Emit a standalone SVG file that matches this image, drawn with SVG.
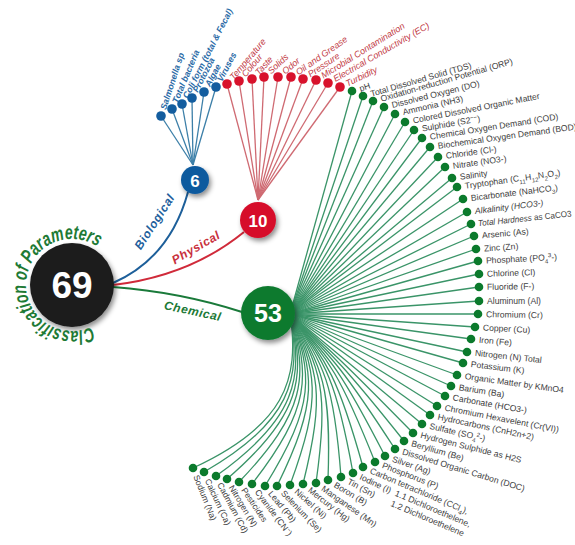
<svg xmlns="http://www.w3.org/2000/svg" width="575" height="545" viewBox="0 0 575 545">
<defs>
<style>
.gl{font-family:"Liberation Sans",Arial,sans-serif;font-size:8.6px;fill:#3d3d3d}
.gd{fill:#0b7a2c}
.gline{stroke:#3a9468;stroke-width:1.3;fill:none}
.rl{font-family:"Liberation Sans",Arial,sans-serif;font-style:italic;font-size:9px;fill:#c23a45}
.rd{fill:#d8122c}
.rline{stroke:#cf6a72;stroke-width:1.3;fill:none}
.bl{font-family:"Liberation Sans",Arial,sans-serif;font-style:italic;font-weight:bold;font-size:8.8px;fill:#2a6aa6}
.bd{fill:#135d9f}
.bline{stroke:#3c7fa8;stroke-width:1.3;fill:none}
.cat{font-family:"Liberation Sans",Arial,sans-serif;font-style:italic;font-weight:bold;font-size:12px;letter-spacing:0.6px}
.num{font-family:"Liberation Sans",Arial,sans-serif;font-weight:bold;fill:#fff;text-anchor:middle}
.sub{font-size:6px;baseline-shift:sub}
.sup{font-size:6px;baseline-shift:super}
</style>
<filter id="sh" x="-40%" y="-40%" width="180%" height="180%"><feDropShadow dx="2" dy="3" stdDeviation="2.5" flood-color="#000" flood-opacity="0.45"/></filter>
<path id="titlePath" d="M91.4,326.7 A46 46 0 1 1 97.1,246.4"/>
</defs>
<rect width="575" height="545" fill="#fff"/>

<g id="connectors">
<path d="M113,283 Q170,258 188,192" stroke="#1d5f9a" stroke-width="2" fill="none"/>
<path d="M113,285 Q190,276 244,232" stroke="#d02a3a" stroke-width="2" fill="none"/>
<path d="M113,287 Q180,292 242,312" stroke="#1a7a3a" stroke-width="2" fill="none"/>
<g class="bline">
<path d="M193,165 L161,116"/><path d="M193,165 L172,109"/><path d="M193,165 L182,104"/><path d="M193,165 L192,98"/><path d="M193,165 L204,92"/><path d="M193,165 L216,87"/>
</g>
<g class="rline">
<path d="M258,200 L227,84"/><path d="M258,200 L239,81"/><path d="M258,200 L252,79"/><path d="M258,200 L264,77"/><path d="M258,200 L278,77"/><path d="M258,200 L291,77"/><path d="M258,200 L303,79"/><path d="M258,200 L316,80"/><path d="M258,200 L328,83"/><path d="M258,200 L340,87"/>
</g>
<g class="gline">
<path d="M290,314 L352,91"/><path d="M290,314 L363,96"/><path d="M290,314 L373,101"/><path d="M290,314 L384,107"/><path d="M290,314 L395,114"/><path d="M290,314 L405,122"/><path d="M290,314 L414,130"/><path d="M290,314 L422,138"/><path d="M290,314 L430,147"/><path d="M290,314 L438,157"/><path d="M290,314 L445,167"/><path d="M290,314 L452,178"/><path d="M290,314 L457,187"/><path d="M290,314 L463,199"/><path d="M290,314 L467,212"/><path d="M290,314 L471,224"/><path d="M290,314 L474,236"/><path d="M290,314 L476,249"/><path d="M290,314 L478,261"/><path d="M290,314 L479,274"/><path d="M290,314 L479,287"/><path d="M290,314 L479,301"/><path d="M290,314 L478,314"/><path d="M290,314 L475,327"/><path d="M290,314 L471,339"/><path d="M290,314 L467,352"/><path d="M290,314 L463,363"/><path d="M290,314 L457,375"/><path d="M290,314 L451,386"/><path d="M290,314 L445,396"/><path d="M290,314 L437,406"/><path d="M290,314 L430,415"/><path d="M290,314 L422,424"/>
<path d="M290,314 C337.0,356.4 347.1,365.8 413,433"/>
<path d="M290,314 C335.4,358.0 345.4,367.6 404,441"/>
<path d="M290,314 C334.0,359.5 343.7,370.1 395,449"/>
<path d="M290,314 C332.2,361.0 341.9,372.5 385,456"/>
<path d="M290,314 C330.5,362.5 340.2,374.9 375,462"/>
<path d="M290,314 C328.4,363.5 337.9,377.2 363,467"/>
<path d="M290,314 C327.0,365.3 336.3,380.4 353,473"/>
<path d="M290,314 C325.1,366.6 334.0,383.4 341,477"/>
<path d="M290,314 C322.8,367.8 331.3,386.4 328,480"/>
<path d="M290,314 C321.1,369.1 328.9,389.7 316,483"/>
<path d="M290,314 C318.8,370.1 325.5,392.9 303,484"/>
<path d="M290,314 C316.8,371.4 322.4,396.6 290,485"/>
<path d="M290,314 C314.8,372.8 318.8,400.8 277,486"/>
<path d="M290,314 C313.0,374.1 315.4,404.7 265,486"/>
<path d="M290,314 C310.7,375.1 310.7,408.3 252,484"/>
<path d="M290,314 C308.6,376.3 305.8,412.3 239,482"/>
<path d="M290,314 C306.5,377.2 300.7,415.8 227,479"/>
<path d="M290,314 C304.5,378.3 295.9,419.3 216,476"/>
<path d="M290,314 C302.4,379.5 289.8,422.8 204,472"/>
<path d="M290,314 C300.3,380.5 283.9,426.1 193,468"/>
</g>
<text class="cat" fill="#22609c" transform="translate(158,224) rotate(-57)" text-anchor="middle">Biological</text>
<text class="cat" fill="#c8303c" transform="translate(198,251) rotate(-30)" text-anchor="middle">Physical</text>
<text class="cat" fill="#1c7a36" transform="translate(192,315) rotate(12)" text-anchor="middle">Chemical</text>
</g>

<g id="root">
<circle cx="72" cy="285" r="42" fill="#1b1b1b" filter="url(#sh)"/>
<text class="num" x="72" y="298" font-size="37">69</text>
<text font-family="Liberation Sans, Arial, sans-serif" font-style="italic" font-weight="bold" font-size="20" fill="#1e7a35"><textPath href="#titlePath" textLength="191" lengthAdjust="spacingAndGlyphs">Classification of Parameters</textPath></text>
</g>

<g id="biological">
<circle cx="195" cy="180" r="14" fill="#0e5a9e" filter="url(#sh)"/>
<text class="num" x="195" y="186.5" font-size="17">6</text>
</g>
<g id="physical">
<circle cx="258" cy="220" r="18" fill="#d6102b" filter="url(#sh)"/>
<text class="num" x="258" y="226.5" font-size="17">10</text>
</g>
<g id="chemical">
<circle cx="268" cy="313" r="27" fill="#0c7a2f" filter="url(#sh)"/>
<text class="num" x="268" y="322" font-size="25">53</text>
</g>

<g id="bio-leaves">
<g id="b1" transform="translate(161,116)"><circle class="bd" r="4.8"/><text class="bl" transform="rotate(-72)" x="7" y="3">Salmonella sp</text></g>
<g id="b2" transform="translate(172,109)"><circle class="bd" r="4.8"/><text class="bl" transform="rotate(-67)" x="7" y="3">Total bacteria</text></g>
<g id="b3" transform="translate(182,104)"><circle class="bd" r="4.8"/><text class="bl" transform="rotate(-63)" x="7" y="3">Coli form (total &amp; Fecal)</text></g>
<g id="b4" transform="translate(192,98)"><circle class="bd" r="4.8"/><text class="bl" transform="rotate(-63)" x="7" y="3">Protozoa</text></g>
<g id="b5" transform="translate(204,92)"><circle class="bd" r="4.8"/><text class="bl" transform="rotate(-62)" x="7" y="3">Algae</text></g>
<g id="b6" transform="translate(216,87)"><circle class="bd" r="4.8"/><text class="bl" transform="rotate(-62)" x="7" y="3">Viruses</text></g>
</g>

<g id="phys-leaves">
<g id="p1" transform="translate(227,84)"><circle class="rd" r="4.8"/><text class="rl" transform="rotate(-50)" x="7" y="3">Temperature</text></g>
<g id="p2" transform="translate(239,81)"><circle class="rd" r="4.8"/><text class="rl" transform="rotate(-50)" x="7" y="3">Colour</text></g>
<g id="p3" transform="translate(252,79)"><circle class="rd" r="4.8"/><text class="rl" transform="rotate(-48)" x="7" y="3">Taste</text></g>
<g id="p4" transform="translate(264,77)"><circle class="rd" r="4.8"/><text class="rl" transform="rotate(-43)" x="7" y="3">Solids</text></g>
<g id="p5" transform="translate(278,77)"><circle class="rd" r="4.8"/><text class="rl" transform="rotate(-40)" x="7" y="3">Odor</text></g>
<g id="p6" transform="translate(291,77)"><circle class="rd" r="4.8"/><text class="rl" transform="rotate(-35)" x="7" y="3">Oil and Grease</text></g>
<g id="p7" transform="translate(303,79)"><circle class="rd" r="4.8"/><text class="rl" transform="rotate(-34)" x="7" y="3">Pressure</text></g>
<g id="p8" transform="translate(316,80)"><circle class="rd" r="4.8"/><text class="rl" transform="rotate(-32)" x="7" y="3">Microbial Contamination</text></g>
<g id="p9" transform="translate(328,83)"><circle class="rd" r="4.8"/><text class="rl" transform="rotate(-30)" x="7" y="3">Electrical Conductivity (EC)</text></g>
<g id="p10" transform="translate(340,87)"><circle class="rd" r="4.8"/><text class="rl" transform="rotate(-26)" x="7" y="3">Turbidity</text></g>
</g>

<g id="chem-leaves">
<g id="c1" transform="translate(352,91)"><circle class="gd" r="4.3"/><text class="gl" transform="rotate(-18)" x="8" y="3">pH</text></g>
<g id="c2" transform="translate(363,96)"><circle class="gd" r="4.3"/><text class="gl" transform="rotate(-16)" x="8" y="3">Total Dissolved Solid (TDS)</text></g>
<g id="c3" transform="translate(373,101)"><circle class="gd" r="4.3"/><text class="gl" transform="rotate(-16)" x="8" y="3">Oxidation-reduction Potential (ORP)</text></g>
<g id="c4" transform="translate(384,107)"><circle class="gd" r="4.3"/><text class="gl" transform="rotate(-14)" x="8" y="3">Dissolved Oxygen (DO)</text></g>
<g id="c5" transform="translate(395,114)"><circle class="gd" r="4.3"/><text class="gl" transform="rotate(-13)" x="8" y="3">Ammonia (NH3)</text></g>
<g id="c6" transform="translate(405,122)"><circle class="gd" r="4.3"/><text class="gl" transform="rotate(-11)" x="8" y="3">Colored Dissolved Organic Matter</text></g>
<g id="c7" transform="translate(414,130)"><circle class="gd" r="4.3"/><text class="gl" transform="rotate(-10)" x="8" y="3">Sulphide (S2<tspan class="sup">−−</tspan>)</text></g>
<g id="c8" transform="translate(422,138)"><circle class="gd" r="4.3"/><text class="gl" transform="rotate(-9)" x="8" y="3">Chemical Oxygen Demand (COD)</text></g>
<g id="c9" transform="translate(430,147)"><circle class="gd" r="4.3"/><text class="gl" transform="rotate(-8)" x="8" y="3">Biochemical Oxygen Demand (BOD)</text></g>
<g id="c10" transform="translate(438,157)"><circle class="gd" r="4.3"/><text class="gl" transform="rotate(-8)" x="8" y="3">Chloride (Cl-)</text></g>
<g id="c11" transform="translate(445,167)"><circle class="gd" r="4.3"/><text class="gl" transform="rotate(-8)" x="8" y="3">Nitrate (NO3-)</text></g>
<g id="c12" transform="translate(452,178)"><circle class="gd" r="4.3"/><text class="gl" transform="rotate(-8)" x="8" y="3">Salinity</text></g>
<g id="c13" transform="translate(457,187)"><circle class="gd" r="4.3"/><text class="gl" transform="rotate(-8)" x="8" y="3">Tryptophan (C<tspan class="sub">11</tspan>H<tspan class="sub">12</tspan>N<tspan class="sub">2</tspan>O<tspan class="sub">2</tspan>)</text></g>
<g id="c14" transform="translate(463,199)"><circle class="gd" r="4.3"/><text class="gl" transform="rotate(-7)" x="8" y="3">Bicarbonate (NaHCO<tspan class="sub">3</tspan>)</text></g>
<g id="c15" transform="translate(467,212)"><circle class="gd" r="4.3"/><text class="gl" transform="rotate(-7)" x="8" y="3" font-style="italic">Alkalinity (HCO3-)</text></g>
<g id="c16" transform="translate(471,224)"><circle class="gd" r="4.3"/><text class="gl" transform="rotate(-6)" x="7" y="3" textLength="94" lengthAdjust="spacingAndGlyphs"><tspan font-style="italic">Total Hardness</tspan> as CaCO3</text></g>
<g id="c17" transform="translate(474,236)"><circle class="gd" r="4.3"/><text class="gl" transform="rotate(-5)" x="8" y="3">Arsenic (As)</text></g>
<g id="c18" transform="translate(476,249)"><circle class="gd" r="4.3"/><text class="gl" transform="rotate(-4)" x="8" y="3">Zinc (Zn)</text></g>
<g id="c19" transform="translate(478,261)"><circle class="gd" r="4.3"/><text class="gl" transform="rotate(-3)" x="8" y="3">Phosphate (PO<tspan class="sub">4</tspan><tspan class="sup">3</tspan>-)</text></g>
<g id="c20" transform="translate(479,274)"><circle class="gd" r="4.3"/><text class="gl" transform="rotate(-2)" x="8" y="3">Chlorine (Cl)</text></g>
<g id="c21" transform="translate(479,287)"><circle class="gd" r="4.3"/><text class="gl" transform="rotate(-1)" x="8" y="3">Fluoride (F-)</text></g>
<g id="c22" transform="translate(479,301)"><circle class="gd" r="4.3"/><text class="gl" transform="rotate(0)" x="8" y="3">Aluminum (Al)</text></g>
<g id="c23" transform="translate(478,314)"><circle class="gd" r="4.3"/><text class="gl" transform="rotate(1)" x="8" y="3">Chromium (Cr)</text></g>
<g id="c24" transform="translate(475,327)"><circle class="gd" r="4.3"/><text class="gl" transform="rotate(3)" x="8" y="3">Copper (Cu)</text></g>
<g id="c25" transform="translate(471,339)"><circle class="gd" r="4.3"/><text class="gl" transform="rotate(5)" x="8" y="3">Iron (Fe)</text></g>
<g id="c26" transform="translate(467,352)"><circle class="gd" r="4.3"/><text class="gl" transform="rotate(6)" x="8" y="3">Nitrogen (N) Total</text></g>
<g id="c27" transform="translate(463,363)"><circle class="gd" r="4.3"/><text class="gl" transform="rotate(7)" x="8" y="3">Potassium (K)</text></g>
<g id="c28" transform="translate(457,375)"><circle class="gd" r="4.3"/><text class="gl" transform="rotate(8)" x="8" y="3">Organic Matter by KMnO4</text></g>
<g id="c29" transform="translate(451,386)"><circle class="gd" r="4.3"/><text class="gl" transform="rotate(9)" x="8" y="3">Barium (Ba)</text></g>
<g id="c30" transform="translate(445,396)"><circle class="gd" r="4.3"/><text class="gl" transform="rotate(10)" x="8" y="3">Carbonate (HCO3-)</text></g>
<g id="c31" transform="translate(437,406)"><circle class="gd" r="4.3"/><text class="gl" transform="rotate(11)" x="8" y="3">Chromium Hexavelent (Cr(VI))</text></g>
<g id="c32" transform="translate(430,415)"><circle class="gd" r="4.3"/><text class="gl" transform="rotate(12)" x="8" y="3">Hydrocarbons (CnH2n+2)</text></g>
<g id="c33" transform="translate(422,424)"><circle class="gd" r="4.3"/><text class="gl" transform="rotate(13)" x="8" y="3">Sulfate (SO<tspan class="sub">4</tspan><tspan class="sup">2</tspan>-)</text></g>
<g id="c34" transform="translate(413,433)"><circle class="gd" r="4.3"/><text class="gl" transform="rotate(14)" x="8" y="3">Hydrogen Sulphide as H2S</text></g>
<g id="c35" transform="translate(404,441)"><circle class="gd" r="4.3"/><text class="gl" transform="rotate(16)" x="8" y="3">Beryllium (Be)</text></g>
<g id="c36" transform="translate(395,449)"><circle class="gd" r="4.3"/><text class="gl" transform="rotate(17)" x="8" y="3">Dissolved Organic Carbon (DOC)</text></g>
<g id="c37" transform="translate(385,456)"><circle class="gd" r="4.3"/><text class="gl" transform="rotate(19)" x="8" y="3">Silver (Ag)</text></g>
<g id="c38" transform="translate(375,462)"><circle class="gd" r="4.3"/><text class="gl" transform="rotate(21)" x="8" y="3">Phosphorus (P)</text></g>
<g id="c39" transform="translate(363,467)"><circle class="gd" r="4.3"/><text class="gl" transform="rotate(23)" x="8" y="3">Carbon tetrachloride (CCl<tspan class="sub">4</tspan>),<tspan x="40" y="14">1.1 Dichloroethelene,</tspan><tspan x="40" y="25">1.2 Dichloroethelene</tspan></text></g>
<g id="c40" transform="translate(353,473)"><circle class="gd" r="4.3"/><text class="gl" transform="rotate(25)" x="8" y="3">Iodine (I)</text></g>
<g id="c41" transform="translate(341,477)"><circle class="gd" r="4.3"/><text class="gl" transform="rotate(28)" x="8" y="3">Tin (Sn)</text></g>
<g id="c42" transform="translate(328,480)"><circle class="gd" r="4.3"/><text class="gl" transform="rotate(31)" x="8" y="3">Boron (B)</text></g>
<g id="c43" transform="translate(316,483)"><circle class="gd" r="4.3"/><text class="gl" transform="rotate(35)" x="8" y="3">Manganese (Mn)</text></g>
<g id="c44" transform="translate(303,484)"><circle class="gd" r="4.3"/><text class="gl" transform="rotate(38)" x="8" y="3">Mercury (Hg)</text></g>
<g id="c45" transform="translate(290,485)"><circle class="gd" r="4.3"/><text class="gl" transform="rotate(42)" x="8" y="3">Nickel (Ni)</text></g>
<g id="c46" transform="translate(277,486)"><circle class="gd" r="4.3"/><text class="gl" transform="rotate(46)" x="8" y="3">Selenium (Se)</text></g>
<g id="c47" transform="translate(265,486)"><circle class="gd" r="4.3"/><text class="gl" transform="rotate(50)" x="8" y="3">Lead (Pb)</text></g>
<g id="c48" transform="translate(252,484)"><circle class="gd" r="4.3"/><text class="gl" transform="rotate(53)" x="8" y="3">Cyanide (CN<tspan class="sup">−</tspan>)</text></g>
<g id="c49" transform="translate(239,482)"><circle class="gd" r="4.3"/><text class="gl" transform="rotate(56)" x="8" y="3">Pesticides</text></g>
<g id="c50" transform="translate(227,479)"><circle class="gd" r="4.3"/><text class="gl" transform="rotate(59)" x="8" y="3">Nitrogen (N)</text></g>
<g id="c51" transform="translate(216,476)"><circle class="gd" r="4.3"/><text class="gl" transform="rotate(62)" x="8" y="3">Cadmium (Cd)</text></g>
<g id="c52" transform="translate(204,472)"><circle class="gd" r="4.3"/><text class="gl" transform="rotate(65)" x="8" y="3">Calcium (Ca)</text></g>
<g id="c53" transform="translate(193,468)"><circle class="gd" r="4.3"/><text class="gl" transform="rotate(68)" x="8" y="3">Sodium (Na)</text></g>
</g>
</svg>
